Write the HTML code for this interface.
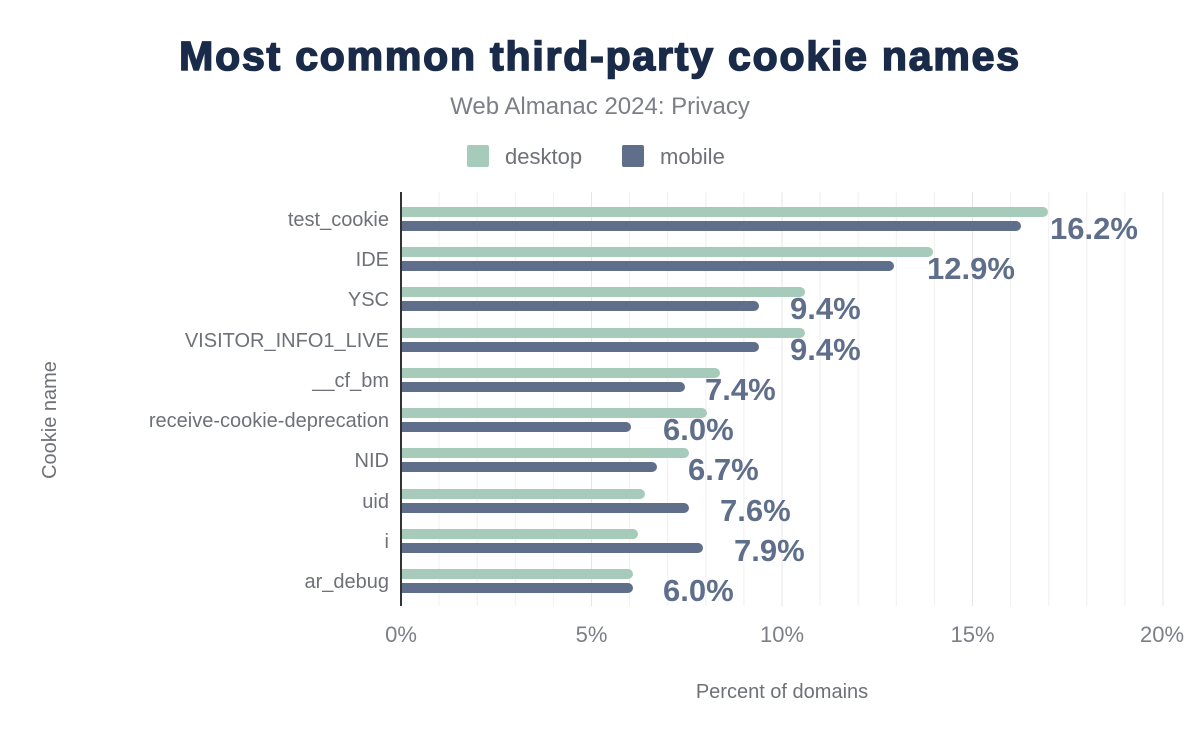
<!DOCTYPE html>
<html><head><meta charset="utf-8"><style>
body{margin:0;background:#fff;width:1200px;height:742px;overflow:hidden}
</style></head><body>
<svg width="1200" height="742" xmlns="http://www.w3.org/2000/svg" font-family="Liberation Sans, Arial, sans-serif">
<rect width="1200" height="742" fill="#fff"/>
<text x="600" y="70" text-anchor="middle" font-size="41" font-weight="900" fill="#1a2b49" stroke="#1a2b49" stroke-width="1.6" letter-spacing="1.8">Most common third-party cookie names</text>
<text x="600" y="114" text-anchor="middle" font-size="24" fill="#7c7f86">Web Almanac 2024: Privacy</text>
<rect x="467" y="145" width="22" height="22" rx="2" fill="#a7cbba"/>
<text x="505" y="164" font-size="22" fill="#6e7177">desktop</text>
<rect x="622" y="145" width="22" height="22" rx="2" fill="#5f6e8a"/>
<text x="660" y="164" font-size="22" fill="#6e7177">mobile</text>
<g stroke="#f0f0f0" stroke-width="1">
<line x1="439.1" y1="192" x2="439.1" y2="606"/><line x1="477.2" y1="192" x2="477.2" y2="606"/><line x1="515.3" y1="192" x2="515.3" y2="606"/><line x1="553.4" y1="192" x2="553.4" y2="606"/>
<line x1="629.6" y1="192" x2="629.6" y2="606"/><line x1="667.7" y1="192" x2="667.7" y2="606"/><line x1="705.8" y1="192" x2="705.8" y2="606"/><line x1="743.9" y1="192" x2="743.9" y2="606"/>
<line x1="820.1" y1="192" x2="820.1" y2="606"/><line x1="858.2" y1="192" x2="858.2" y2="606"/><line x1="896.3" y1="192" x2="896.3" y2="606"/><line x1="934.4" y1="192" x2="934.4" y2="606"/>
<line x1="1010.6" y1="192" x2="1010.6" y2="606"/><line x1="1048.7" y1="192" x2="1048.7" y2="606"/><line x1="1086.8" y1="192" x2="1086.8" y2="606"/><line x1="1124.9" y1="192" x2="1124.9" y2="606"/>
</g>
<g stroke="#e6e6e6" stroke-width="1">
<line x1="591.5" y1="192" x2="591.5" y2="606"/><line x1="782" y1="192" x2="782" y2="606"/><line x1="972.5" y1="192" x2="972.5" y2="606"/><line x1="1163" y1="192" x2="1163" y2="606"/>
</g>
<g stroke-linecap="round" stroke-width="10">
<g stroke="#a7cbba">
<line x1="402" y1="212" x2="1043" y2="212"/>
<line x1="402" y1="252" x2="928" y2="252"/>
<line x1="402" y1="292" x2="800" y2="292"/>
<line x1="402" y1="333" x2="800" y2="333"/>
<line x1="402" y1="373" x2="715" y2="373"/>
<line x1="402" y1="413" x2="702" y2="413"/>
<line x1="402" y1="453" x2="684" y2="453"/>
<line x1="402" y1="494" x2="640" y2="494"/>
<line x1="402" y1="534" x2="633" y2="534"/>
<line x1="402" y1="574" x2="628" y2="574"/>
</g>
<g stroke="#5f6e8a">
<line x1="402" y1="226" x2="1016" y2="226"/>
<line x1="402" y1="266" x2="889" y2="266"/>
<line x1="402" y1="306" x2="754" y2="306"/>
<line x1="402" y1="347" x2="754" y2="347"/>
<line x1="402" y1="387" x2="680" y2="387"/>
<line x1="402" y1="427" x2="626" y2="427"/>
<line x1="402" y1="467" x2="652" y2="467"/>
<line x1="402" y1="508" x2="684" y2="508"/>
<line x1="402" y1="548" x2="698" y2="548"/>
<line x1="402" y1="588" x2="628" y2="588"/>
</g></g>
<rect x="390" y="192" width="11" height="414" fill="#fff"/>
<line x1="401" y1="192" x2="401" y2="606" stroke="#333" stroke-width="2"/>
<g font-size="31" font-weight="bold" fill="#5f6e8a">
<text x="1050" y="239">16.2%</text>
<text x="927" y="279">12.9%</text>
<text x="790" y="319">9.4%</text>
<text x="790" y="360">9.4%</text>
<text x="705" y="400">7.4%</text>
<text x="663" y="440">6.0%</text>
<text x="688" y="480">6.7%</text>
<text x="720" y="521">7.6%</text>
<text x="734" y="561">7.9%</text>
<text x="663" y="601">6.0%</text>
</g>
<g font-size="20" fill="#6e7177" text-anchor="end">
<text x="389" y="226">test_cookie</text>
<text x="389" y="266">IDE</text>
<text x="389" y="306">YSC</text>
<text x="389" y="347">VISITOR_INFO1_LIVE</text>
<text x="389" y="387">__cf_bm</text>
<text x="389" y="427">receive-cookie-deprecation</text>
<text x="389" y="467">NID</text>
<text x="389" y="508">uid</text>
<text x="389" y="548">i</text>
<text x="389" y="588">ar_debug</text>
</g>
<g font-size="22" fill="#7c7f86" text-anchor="middle">
<text x="401" y="642">0%</text>
<text x="591.5" y="642">5%</text>
<text x="782" y="642">10%</text>
<text x="972.5" y="642">15%</text>
<text x="1162" y="642">20%</text>
</g>
<text x="782" y="698" text-anchor="middle" font-size="20" fill="#6e7177">Percent of domains</text>
<text transform="translate(56,420) rotate(-90)" text-anchor="middle" font-size="20" fill="#6e7177">Cookie name</text>
</svg>
</body></html>
